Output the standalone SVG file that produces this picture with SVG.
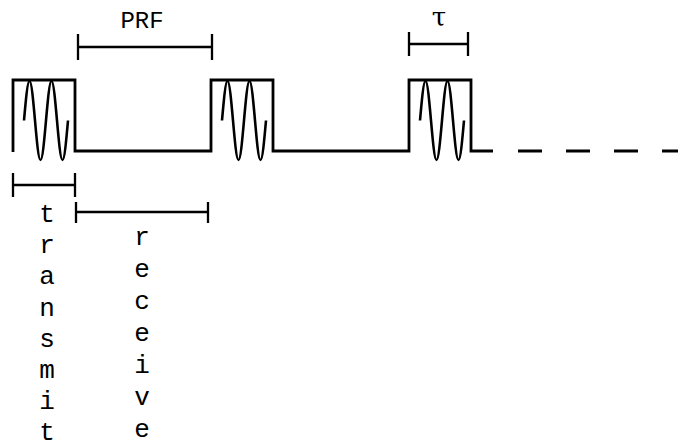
<svg xmlns="http://www.w3.org/2000/svg" width="678" height="447" viewBox="0 0 678 447">
  <defs>
    <style>
      .line { fill: none; stroke: #000; stroke-width: 2.8; stroke-linejoin: miter; }
      .wave { fill: none; stroke: #000; stroke-width: 2.6; }
      .br { fill: none; stroke: #000; stroke-width: 2.3; }
      .lbl { font-family: "Liberation Mono", "Courier New", monospace; font-size: 24px; fill: #000; text-anchor: middle; }
      .vert { font-family: "Liberation Mono", "Courier New", monospace; font-size: 26px; fill: #000; text-anchor: middle; }
      .tau { font-family: "DejaVu Serif", "Liberation Serif", serif; font-size: 26px; fill: #000; text-anchor: middle; }
    </style>
    <path id="wv" class="wave" d="M24,120.5 c1.75,-19.75 3.5,-39.5 5.5,-39.5 c4,0 7,79 11,79 c4,0 7,-79 11,-79 c4,0 7,79 11,79 c2,0 3.75,-19.75 5.5,-39.5"/>
  </defs>
  <rect width="678" height="447" fill="#fff"/>

  <g id="pulse-train">
    <path class="line" d="M13,152 V80 H75 V151 H211 V80 H273 V151 H409 V80 H471 V151 H493"/>
    <line class="line" x1="518" y1="151" x2="678" y2="151" stroke-dasharray="24 24"/>
  </g>

  <g id="pulse1"><use href="#wv"/></g>
  <g id="pulse2"><use href="#wv" transform="translate(198,0)"/></g>
  <g id="pulse3"><use href="#wv" transform="translate(396,0)"/></g>

  <g id="connectors">
    <g id="prf-bracket">
      <path class="br" d="M78,34 V60 M78,47 H212 M212,34 V60"/>
    </g>
    <g id="tau-bracket">
      <path class="br" d="M409,32 V56 M409,44 H468 M468,32 V56"/>
    </g>
    <g id="transmit-bracket">
      <path class="br" d="M13,173 V197 M13,185 H75 M75,173 V197"/>
    </g>
    <g id="receive-bracket">
      <path class="br" d="M76,202 V223 M76,212 H208 M208,202 V223"/>
    </g>
  </g>

  <g id="label-prf"><text class="lbl" x="142" y="28">PRF</text></g>
  <g id="label-tau"><text class="tau" x="439" y="26">τ</text></g>

  <g id="label-transmit" class="vert">
    <text x="47" y="222">t</text>
    <text x="47" y="253">r</text>
    <text x="47" y="284">a</text>
    <text x="47" y="316">n</text>
    <text x="47" y="347">s</text>
    <text x="47" y="378">m</text>
    <text x="47" y="409">i</text>
    <text x="47" y="440">t</text>
  </g>

  <g id="label-receive" class="vert">
    <text x="142" y="245">r</text>
    <text x="142" y="277">e</text>
    <text x="142" y="309">c</text>
    <text x="142" y="341">e</text>
    <text x="142" y="373">i</text>
    <text x="142" y="405">v</text>
    <text x="142" y="437">e</text>
  </g>
</svg>
